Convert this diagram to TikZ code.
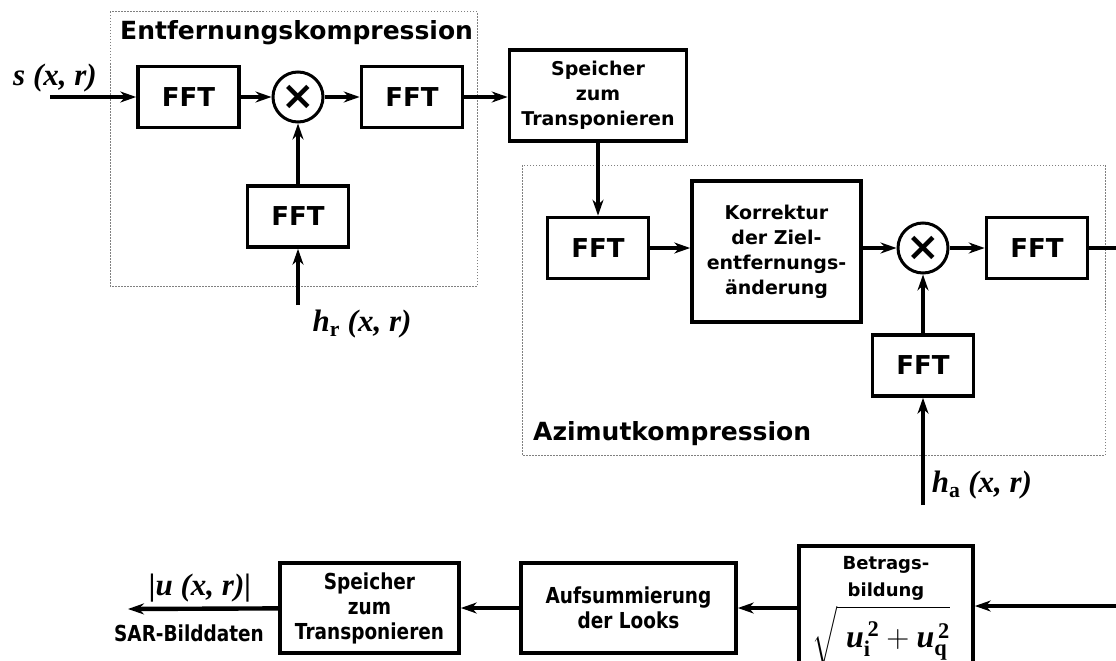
\RequirePackage{fix-cm}
\documentclass[tikz,border=0pt]{standalone}
\usepackage{amsmath}
\usepackage{fontspec}
\setmainfont{DejaVu Sans}
\newfontfamily\lblfont{Liberation Serif}
\newfontfamily\narrowfont{DejaVu Sans}[FakeStretch=0.84]
\usetikzlibrary{positioning,arrows.meta}

\newcommand{\bivar}[1]{\text{\lblfont\bfseries\itshape #1}}
\newcommand{\bfidx}[1]{\text{\lblfont\bfseries #1}}

\tikzset{
  blk/.style={draw, line width=3.6pt, align=center, inner sep=0pt,
              font=\fontsize{19}{25}\selectfont\bfseries},
  nblk/.style={blk, font=\fontsize{22}{25}\selectfont\narrowfont\bfseries},
  fft/.style={blk, minimum width=101pt, minimum height=61pt,
              font=\fontsize{26}{30}\selectfont\bfseries},
  mul/.style={draw, circle, line width=3pt, minimum size=50pt, inner sep=0pt,
              font=\fontsize{40}{40}\selectfont\bfseries},
  grp/.style={draw=black!50, line width=1pt, dash pattern=on 1.5pt off 1.5pt},
  grplbl/.style={anchor=base west, inner sep=0pt,
                 font=\fontsize{25}{30}\selectfont\bfseries},
  mlbl/.style={inner sep=0pt, font=\fontsize{31}{36}\selectfont\lblfont\bfseries\itshape},
  con/.style={->, line width=3.3pt},
  bcon/.style={->, line width=4.4pt},
}

\begin{document}
\begin{tikzpicture}[x=1pt, y=-1pt, >={Stealth[length=16pt,width=11pt]}]
  \useasboundingbox (0,0) rectangle (1116,661);
  \clip (0,0) rectangle (1116,661);

  % Entfernungskompression
  \draw[grp] (110,12) rectangle (477,286);
  \node[grplbl] (elbl) at (120,40) {Entfernungskompression};
  \node[fft] (fft1) at (188.5,97) {FFT};
  \node[mul] (mul1) at (298,97) {×};
  \node[fft] (fft2) at (412,97) {FFT};
  \node[fft] (fft3) at (298,216.5) {FFT};
  \coordinate (sin) at (50,97);
  \coordinate (hrin) at (298,305);
  \node[mlbl] (slbl) at (55,78) {s (x, r)};
  \node[mlbl] (hrlbl) at (362,324) {h{\upshape\textsubscript{r}} (x, r)};

  \node[blk, minimum width=177pt, minimum height=91pt] (sp1) at (598,95.5)
    {Speicher\\zum\\Transponieren};

  % Azimutkompression
  \draw[grp] (522,165) rectangle (1105,455);
  \node[grplbl] (albl) at (533,440) {Azimutkompression};
  \node[fft] (fft4) at (598,248) {FFT};
  \node[blk, minimum width=169pt, minimum height=141pt] (kor) at (776.5,251.5)
    {Korrektur\\der Ziel-\\entfernungs-\\änderung};
  \node[mul] (mul2) at (923,248) {×};
  \node[fft] (fft5) at (1037,248) {FFT};
  \node[fft] (fft6) at (923,365.5) {FFT};
  \coordinate (hain) at (923,505);
  \coordinate (aout) at (1116,248);
  \node[mlbl] (halbl) at (982,485) {h{\upshape\textsubscript{a}} (x, r)};

  % untere Reihe
  \coordinate (bin) at (1116,606);
  \node[blk, anchor=north, minimum width=174pt, inner ysep=11pt,
        font=\fontsize{18}{27}\selectfont\bfseries] (betrag) at (886,544)
    {Betrags-\\bildung\\[4pt]
     {\fontsize{32}{30}\selectfont$\sqrt{\rule[-8pt]{0pt}{41pt}\;\bivar{u}_{\bfidx{i}}^{\,\bfidx{2}}
       + \bivar{u}_{\bfidx{q}}^{\,\bfidx{2}}}$\hspace*{10pt}}};
  \node[nblk, minimum width=215pt, minimum height=90pt] (sum) at (628.5,608)
    {Aufsummierung\\der Looks};
  \node[nblk, minimum width=179pt, minimum height=90pt] (sp2) at (369.5,608)
    {Speicher\\zum\\Transponieren};
  \coordinate (uout) at (128,609);
  \node[mlbl] (ulbl) at (200,588) {|u (x, r)|};
  \node[inner sep=0pt, font=\fontsize{22}{24}\selectfont\narrowfont\bfseries] (sarlbl) at (189,633)
    {SAR-Bilddaten};

  \draw[con] (sin) -- (fft1);
  \draw[con] (fft1) -- (mul1);
  \draw[con] (mul1) -- (fft2);
  \draw[con] (fft3) -- (mul1);
  \draw[con] (hrin) -- (fft3);
  \draw[con] (fft2) -- (fft2 -| sp1.west);
  \draw[con] (sp1) -- (fft4);
  \draw[con] (fft4) -- (fft4 -| kor.west);
  \draw[con] (mul2 -| kor.east) -- (mul2);
  \draw[con] (mul2) -- (fft5);
  \draw[con] (fft6) -- (mul2);
  \draw[con] (hain) -- (fft6);
  \draw[line width=3.3pt] (fft5) -- (aout);
  \draw[bcon] (bin) -- (bin -| betrag.east);
  \draw[bcon] (sum -| betrag.west) -- (sum);
  \draw[bcon] (sum) -- (sp2);
  \draw[bcon] (sp2) -- (uout);
\end{tikzpicture}
\end{document}
